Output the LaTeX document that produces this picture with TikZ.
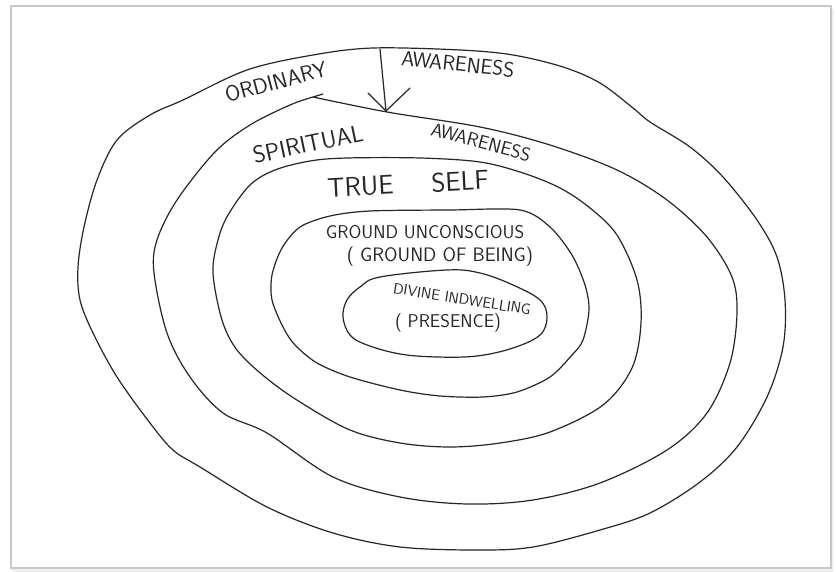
\documentclass[tikz,border=0pt]{standalone}
\usepackage{fontspec}
\begin{document}
\begin{tikzpicture}[x=1pt,y=-1pt,
  ring/.style={draw=black!85,line width=1.2pt,line join=round,line cap=round},
  lab/.style={inner sep=0pt,text=black!85,font=\sffamily\fontsize{#1}{#1}\selectfont\addfontfeature{FakeStretch=1.12}},
  frame/.style={draw=black!22,line width=1.6pt}]
\useasboundingbox (0,0) rectangle (836,572);
\fill[black!6] (12,9) rectangle (834,572);
\fill[white] (11,6) rectangle (831,568);
\draw[frame] (11,6) rectangle (831,568);

% outer ring
\draw[ring] plot[smooth cycle,tension=0.55] coordinates {
 (373,48) (460,50) (513,55) (563,67) (600,83) (633,108) (650,122) (690,147)
 (723,177) (757,220) (777,257) (785,300) (783,347) (767,397) (737,447)
 (700,482) (650,513) (600,530) (533,547) (477,550) (400,547) (333,533)
 (267,507) (200,467) (173,450) (150,423) (117,377) (93,333) (80,300)
 (78,267) (84,227) (97,180) (117,140) (150,115) (183,100) (247,70) (313,55)};

% second ring (with cusp)
\coordinate (cusp) at (313,97);
\coordinate (hook) at (323,94);
\draw[ring] (hook) -- (cusp) plot[smooth,tension=0.55] coordinates {
 (313,97) (387,112) (480,127) (550,145) (617,170) (667,200) (707,237)
 (732,277) (737,313) (730,363) (707,413) (667,450) (600,483) (533,500)
 (467,504) (400,497) (333,477) (267,433) (223,413) (190,377) (167,333)
 (154,273) (157,240) (177,200) (215,152) (250,125) (290,105) (313,97)};

% true self ring
\draw[ring] plot[smooth cycle,tension=0.55] coordinates {
 (310,161) (347,158) (420,158) (480,162) (523,173) (560,188) (590,208)
 (617,235) (637,280) (641,323) (632,368) (603,405) (550,432) (500,443)
 (450,447) (400,443) (350,430) (300,402) (265,377) (237,350) (222,320)
 (213,273) (218,240) (228,215) (250,185) (275,170)};

% ground ring
\draw[ring] plot[smooth cycle,tension=0.5] coordinates {
 (330,216) (370,211) (450,210) (520,210) (550,227) (572,255) (585,285)
 (589,310) (583,340) (572,355) (550,377) (517,392) (483,397) (440,396)
 (400,390) (350,377) (317,363) (295,345) (283,327) (272,300) (272,275)
 (282,248) (300,227)};

% divine ring
\draw[ring] plot[smooth cycle,tension=0.6] coordinates {
 (380,277) (447,270) (480,273) (513,285) (540,300) (547,317) (540,335)
 (513,348) (477,356) (437,357) (400,354) (367,345) (350,335) (343,317)
 (347,300) (360,287)};

% arrow
\coordinate (atop) at (380,49);
\coordinate (atip) at (386,111);
\coordinate (awl) at (368,93);
\coordinate (awr) at (410,88);
\draw[ring] (atop) -- (atip);
\draw[ring] (awl) -- (atip) -- (awr);

% labels
\node[lab=22,rotate=15] (ord) at (276,82) {ORDINARY};
\node[lab=21,rotate=-6] (aw1) at (458,64) {AWARENESS};
\node[lab=24,rotate=12] (spi) at (308,144) {SPIRITUAL};
\node[lab=19,rotate=-15] (aw2) at (481,142) {AWARENESS};
\node[lab=27,rotate=3] (ts) at (408,184) {TRUE\hspace{38pt}SELF};
\node[lab=18.5] (gu) at (425,232) {GROUND UNCONSCIOUS};
\node[lab=19.5] (gb) at (440,257) {( GROUND OF BEING)};
\node[lab=15,rotate=-9] (di) at (462,299) {DIVINE INDWELLING};
\node[lab=18.5] (pr) at (448,323) {( PRESENCE)};
\end{tikzpicture}
\end{document}
